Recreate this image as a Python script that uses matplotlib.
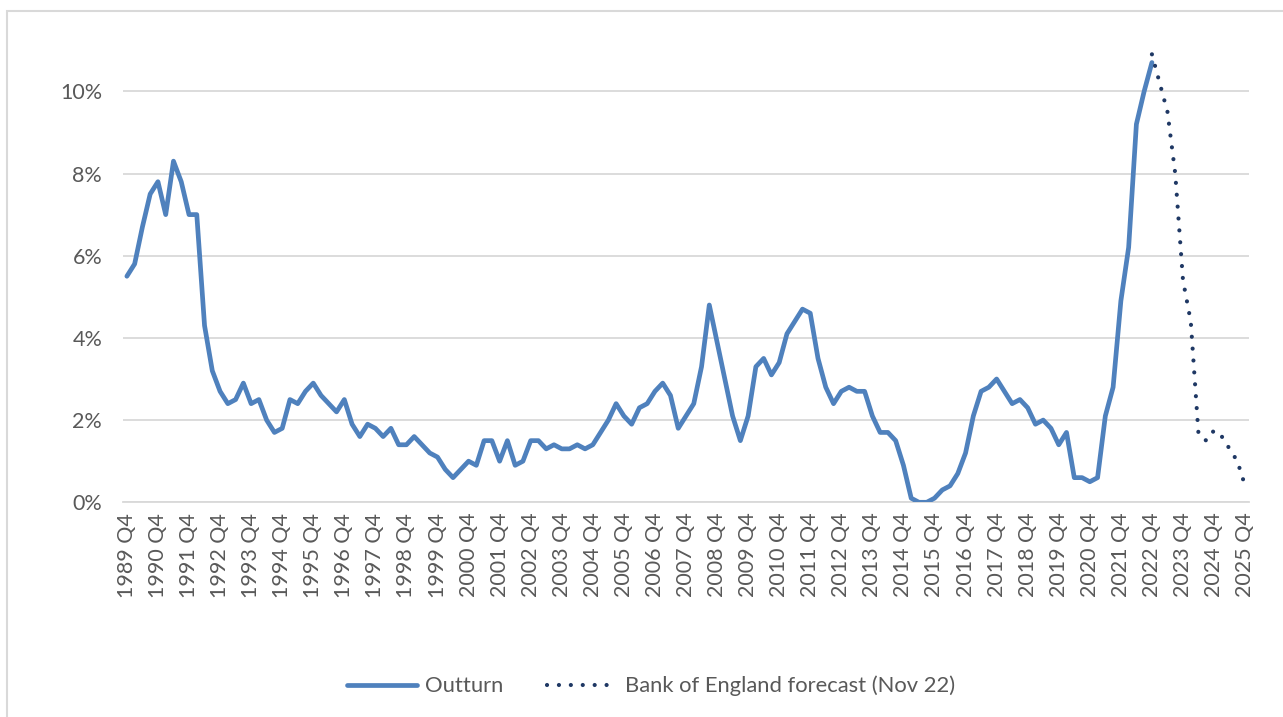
import numpy as np
import matplotlib
matplotlib.use("Agg")
import matplotlib.pyplot as plt
from matplotlib.patches import Rectangle
from matplotlib.ticker import FixedLocator, FuncFormatter

plt.rcParams['font.family'] = ['Lato', 'DejaVu Sans']

# quarterly CPI inflation (%), 1989 Q4 to 2022 Q4
outturn = [5.5, 5.8, 6.7, 7.5, 7.8, 7.0, 8.3, 7.8, 7.0, 7.0,
           4.3, 3.2, 2.7, 2.4, 2.5, 2.9, 2.4, 2.5, 2.0, 1.7,
           1.8, 2.5, 2.4, 2.7, 2.9, 2.6, 2.4, 2.2, 2.5, 1.9,
           1.6, 1.9, 1.8, 1.6, 1.8, 1.4, 1.4, 1.6, 1.4, 1.2,
           1.1, 0.8, 0.6, 0.8, 1.0, 0.9, 1.5, 1.5, 1.0, 1.5,
           0.9, 1.0, 1.5, 1.5, 1.3, 1.4, 1.3, 1.3, 1.4, 1.3,
           1.4, 1.7, 2.0, 2.4, 2.1, 1.9, 2.3, 2.4, 2.7, 2.9,
           2.6, 1.8, 2.1, 2.4, 3.3, 4.8, 3.9, 3.0, 2.1, 1.5,
           2.1, 3.3, 3.5, 3.1, 3.4, 4.1, 4.4, 4.7, 4.6, 3.5,
           2.8, 2.4, 2.7, 2.8, 2.7, 2.7, 2.1, 1.7, 1.7, 1.5,
           0.9, 0.1, 0.0, 0.0, 0.1, 0.3, 0.4, 0.7, 1.2, 2.1,
           2.7, 2.8, 3.0, 2.7, 2.4, 2.5, 2.3, 1.9, 2.0, 1.8,
           1.4, 1.7, 0.6, 0.6, 0.5, 0.6, 2.1, 2.8, 4.9, 6.2,
           9.2, 10.0, 10.7]

# Bank of England forecast, 2022 Q4 to 2025 Q4
forecast = [10.9, 10.2, 9.5, 8.0, 5.4, 4.4, 1.65, 1.5, 1.75, 1.6, 1.3, 1.0, 0.4]

quarters = [f"{y} Q{q}" for y in range(1989, 2026) for q in (1, 2, 3, 4)][3:]

n_out = len(outturn)
x_out = np.arange(n_out)
x_fc = np.arange(n_out - 1, n_out - 1 + len(forecast))

fig = plt.figure(figsize=(12.83, 7.17), dpi=100)
ax = fig.add_axes([123 / 1283, (717 - 502.3) / 717, (1249 - 123) / 1283, (502.3 - 40) / 717])

grey_txt = '#595959'
grid_c = '#d9d9d9'

ax.plot(x_out, outturn, color='#4f81bd', lw=3.4, solid_joinstyle='round',
        solid_capstyle='round', label='Outturn', zorder=3)
ax.plot(x_fc, forecast, color='#1f3864', lw=3.0, linestyle=(0, (0.01, 2.85)),
        dash_capstyle='round', label='Bank of England forecast (Nov 22)', zorder=4)

ax.set_xlim(-0.5, len(quarters) - 0.5)
ax.set_ylim(0, (502.3 - 40) / 41.1)

ax.yaxis.set_major_locator(FixedLocator([0, 2, 4, 6, 8, 10]))
ax.yaxis.set_major_formatter(FuncFormatter(lambda v, p: f"{v:.0f}%"))
ax.grid(axis='y', color=grid_c, lw=1.3)
ax.set_axisbelow(True)

tick_pos = [i for i, q in enumerate(quarters) if q.endswith('Q4')]
ax.set_xticks(tick_pos)
ax.set_xticklabels([quarters[i] for i in tick_pos], rotation=90)

for s in ['top', 'right', 'left']:
    ax.spines[s].set_visible(False)
ax.spines['bottom'].set_color(grid_c)
ax.spines['bottom'].set_linewidth(1.3)
ax.tick_params(axis='y', length=0, pad=15, labelsize=15.5, labelcolor=grey_txt)
ax.tick_params(axis='x', length=0, pad=7.5, labelsize=15.5, labelcolor=grey_txt)

fig.legend(loc='center', bbox_to_anchor=(651 / 1283, 31 / 717), ncol=2, frameon=False,
           fontsize=15.8, handlelength=3.2, handletextpad=0.35, columnspacing=2.0,
           labelcolor=grey_txt)

# chart border (top and left edges visible)
fig.patches.append(Rectangle((6.5 / 1283, -0.05), 1.2, (706 + 36) / 717,
                             transform=fig.transFigure, fill=False,
                             edgecolor=grid_c, lw=1.5))

fig.savefig('out.png', dpi=100)
